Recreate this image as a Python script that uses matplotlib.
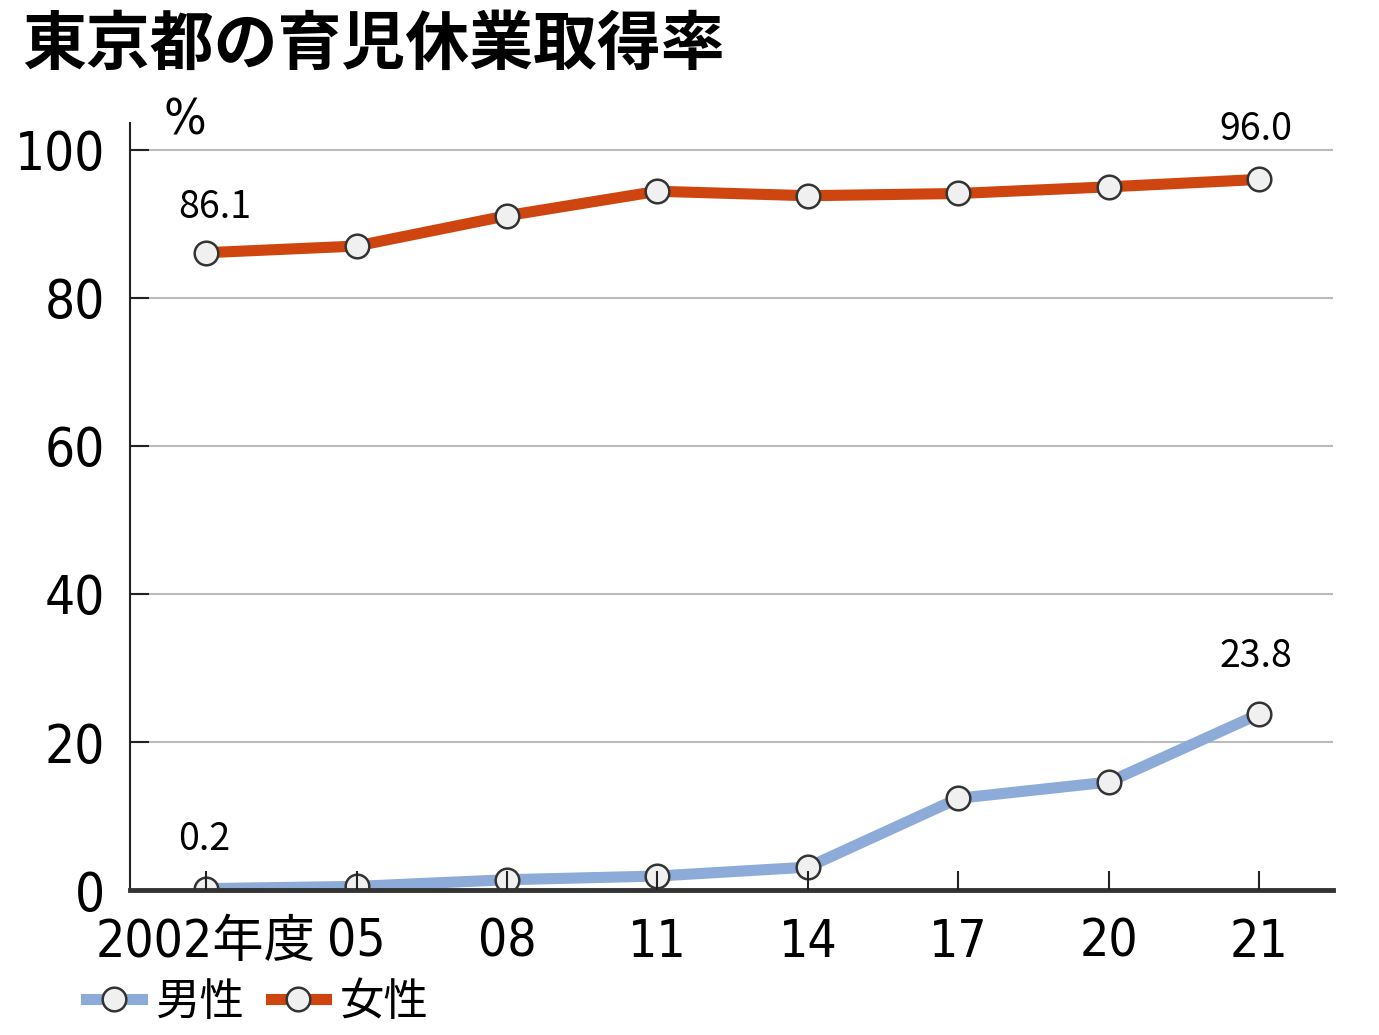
import numpy as np
import matplotlib
matplotlib.use('Agg')
import matplotlib.pyplot as plt

# data
years = ['2002年度', '05', '08', '11', '14', '17', '20', '21']
female = [86.1, 87.0, 91.1, 94.4, 93.8, 94.1, 95.0, 96.0]
male = [0.2, 0.5, 1.4, 1.9, 3.1, 12.4, 14.6, 23.8]
yticks = [0, 20, 40, 60, 80, 100]

NUM_FONT = ['DejaVu Sans', 'Noto Sans CJK JP']
JP_FONT = ['Noto Sans CJK JP', 'DejaVu Sans']

FEMALE_C = '#CF4510'
MALE_C = '#8DABD8'

fig = plt.figure(figsize=(13.79, 10.35), dpi=100)
ax = fig.add_axes([0.0943, 0.140, 0.8724, 0.741])

x = np.arange(len(years))
mk = dict(marker='o', markersize=17, markerfacecolor='#F0F0F0',
          markeredgecolor='#333333', markeredgewidth=1.8)
ax.plot(x, male, color=MALE_C, lw=8, label='男性', zorder=3, **mk)
ax.plot(x, female, color=FEMALE_C, lw=8, label='女性', zorder=3, **mk)

ax.set_xlim(-0.505, 7.49)
ax.set_ylim(0, 103.6)

# grid lines
for t in yticks[1:]:
    ax.axhline(t, color='#BBBBBB', lw=1.5, zorder=1)

ax.set_yticks(yticks)
ax.set_yticklabels([str(t) for t in yticks], family=NUM_FONT, fontsize=38,
                   fontstretch='condensed')
ax.set_xticks(x)
ax.set_xticklabels(years, family=NUM_FONT, fontsize=37, fontstretch='condensed')
ax.tick_params(axis='y', direction='in', length=14, width=1.5, pad=18, color='#222222')
ax.tick_params(axis='x', direction='in', length=14, width=1.5, pad=20, color='#222222')

for s in ['top', 'right']:
    ax.spines[s].set_visible(False)
ax.spines['left'].set_linewidth(1.5)
ax.spines['left'].set_color('#222222')
ax.spines['bottom'].set_linewidth(3.5)
ax.spines['bottom'].set_color('#333333')
for s in ax.spines.values():
    s.set_zorder(4)
ax.xaxis.set_zorder(4)

# value labels
lab = dict(ha='center', va='center', family=JP_FONT, fontsize=27)
ax.text(0.06, female[0] + 6.1, '86.1', **lab)
ax.text(6.98, female[-1] + 6.7, '96.0', **lab)
ax.text(6.98, male[-1] + 7.7, '23.8', **lab)
ax.text(-0.01, male[0] + 6.6, '0.2', **lab)

fig.text(0.134, 0.884, '%', family=NUM_FONT, fontsize=36, fontstretch='condensed',
         ha='center', va='center')

fig.text(0.016, 0.925, '東京都の育児休業取得率', family=JP_FONT, fontsize=46,
         fontweight='bold', ha='left', va='bottom')

leg = fig.legend(loc='lower left', bbox_to_anchor=(0.043, -0.016), ncol=2, frameon=False,
                 prop={'family': JP_FONT, 'size': 32}, handlelength=1.25,
                 handletextpad=0.3, columnspacing=0.6, borderaxespad=0.2)

fig.savefig('out.png', dpi=100, facecolor='white')
